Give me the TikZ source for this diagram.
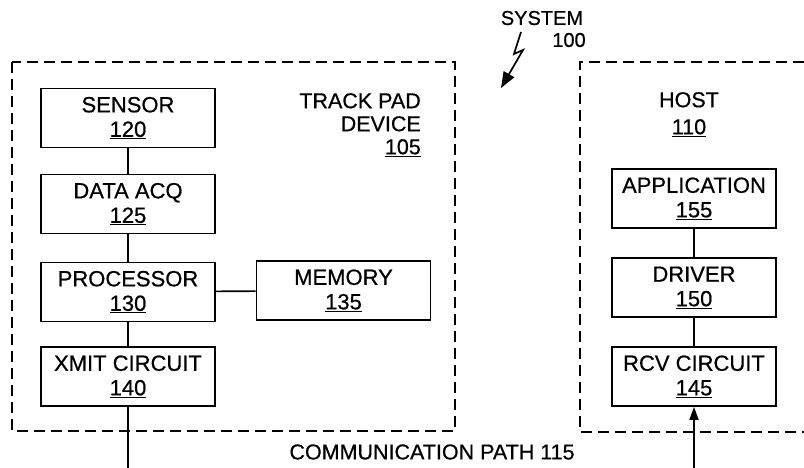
\documentclass[tikz,border=0pt]{standalone}
\usepackage{fontspec}
\setmainfont{Liberation Sans}[FakeBold=0.6]
\usetikzlibrary{arrows.meta}
\tikzset{
  blk/.style={draw, line width=1.7pt, minimum width=174pt, minimum height=59pt,
    align=center, inner sep=0pt, font=\fontsize{22}{24.5}\selectfont},
  lbl/.style={inner sep=0pt, font=\fontsize{21.5}{23}\selectfont},
  bound/.style={line width=2.3pt, dash pattern=on 11pt off 6pt},
  wire/.style={line width=1.7pt},
}
\begin{document}
\begin{tikzpicture}[x=1pt,y=-1pt]
\useasboundingbox (0,0) rectangle (804,468);

% enclosures
\draw[bound] (12,62) rectangle (455,431);
\draw[bound] (804,62) -| (580,432) -- (804,432);

% track pad device
\node[blk] (sensor) at (128,118) {SENSOR\\\underline{120}};
\node[blk] (daq)    at (128,204) {DATA ACQ\\\underline{125}};
\node[blk] (proc)   at (128,292) {PROCESSOR\\\underline{130}};
\node[blk] (xmit)   at (128,376.5) {XMIT CIRCUIT\\\underline{140}};
\node[blk] (mem)    at (343.5,290.5) {MEMORY\\\underline{135}};
\node[lbl, align=right, anchor=north east] (tpd) at (421,93)
  {TRACK PAD\\DEVICE\\\underline{105}};

% host
\node[blk, minimum width=164pt] (app) at (694,198.5) {APPLICATION\\\underline{155}};
\node[blk, minimum width=164pt] (drv) at (694,287.5) {DRIVER\\\underline{150}};
\node[blk, minimum width=164pt] (rcv) at (694,376.5) {RCV CIRCUIT\\\underline{145}};
\node[lbl, align=center, anchor=north, font=\fontsize{21.5}{27}\selectfont] (host) at (689,92)
  {HOST\\\underline{110}};

% system label
\node[lbl, font=\fontsize{20}{22}\selectfont] (sys) at (542,18) {SYSTEM};
\node[lbl, font=\fontsize{20}{22}\selectfont] (sysnum) at (569,40) {100};
\coordinate (z0) at (521,32);
\coordinate (z1) at (514,54);
\coordinate (z2) at (523,50);
\coordinate (z3) at (501,88);
\draw[line width=1.7pt, -{Triangle[length=16pt,width=12pt]}] (z0) -- (z1) -- (z2) -- (z3);

% connections
\draw[wire] (sensor) -- (daq);
\draw[wire] (daq) -- (proc);
\draw[wire] (proc) -- (xmit);
\draw[wire] (proc) -- (mem);
\coordinate (out) at (128,468);
\draw[wire] (xmit) -- (out);
\draw[wire] (app) -- (drv);
\draw[wire] (drv) -- (rcv);
\coordinate (in) at (694,468);
\draw[wire, -{Triangle[length=13pt,width=9pt]}] (in) -- (rcv);

\node[lbl] (path) at (432,452) {COMMUNICATION PATH 115};
\end{tikzpicture}
\end{document}
